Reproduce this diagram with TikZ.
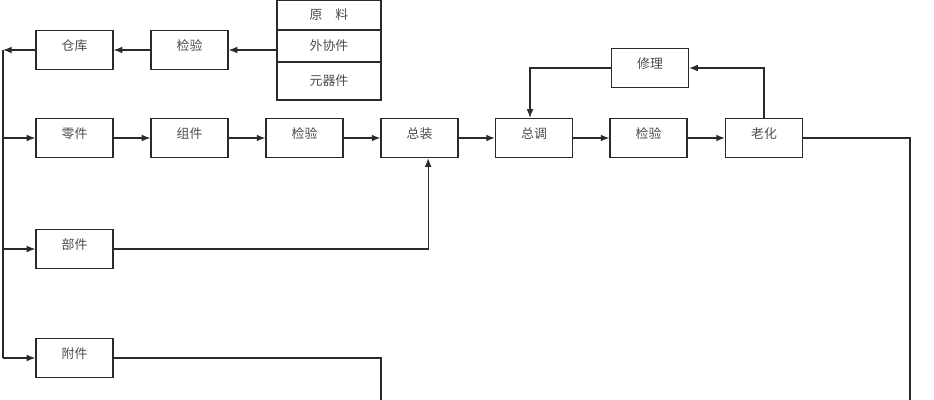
\documentclass[tikz,border=0pt]{standalone}
\usepackage{fontspec}
\usepackage{xcolor}
\usetikzlibrary{arrows.meta}
\newfontfamily\cjk{Noto Sans CJK SC}
\definecolor{lineGray}{HTML}{2A2A2A}

\begin{document}
\begin{tikzpicture}[
  x=0.03cm, y=-0.03cm,
  every node/.style={font=\cjk\fontsize{11}{13}\selectfont, text=black!70},
  box/.style={draw=lineGray, line width=1pt, minimum width=2.31cm,
    minimum height=1.17cm, inner sep=0pt, text depth=0.32cm},
  srcbox/.style={draw=lineGray, line width=1pt, minimum width=3.12cm,
    inner sep=0pt},
  flow/.style={draw=lineGray, line width=1pt, -{Latex[length=2.6mm,width=2mm]}},
  wire/.style={draw=lineGray, line width=0.9pt},
]
\useasboundingbox (0,0) rectangle (934,400);

% ─── incoming material ───
\node[srcbox, minimum height=0.9cm]  (raw)   at (329,15) {原\quad 料};
\node[srcbox, minimum height=0.96cm] (outer) at (329,46) {外协件};
\node[srcbox, minimum height=1.14cm] (elem)  at (329,81) {元器件};

\node[box] (check0) at (189.5,50) {检验};
\node[box] (store)  at (74.5,50)  {仓库};

% ─── main line ───
\node[box] (parts)   at (74.5,138)  {零件};
\node[box] (group)   at (189.5,138) {组件};
\node[box] (check1)  at (304.5,138) {检验};
\node[box] (final)   at (419.5,138) {总装};
\node[box] (tune)    at (534,138)   {总调};
\node[box] (check2)  at (648.5,138) {检验};
\node[box] (aging)   at (764,138)   {老化};
\node[box] (repair)  at (650,68)    {修理};

% ─── side branches ───
\node[box] (module)  at (74.5,249) {部件};
\node[box] (extra)   at (74.5,358) {附件};

\coordinate (trunk) at (3,50);
\coordinate (inA)   at ([xshift=0.26cm]final.south);
\coordinate (inB)   at ([xshift=-0.12cm]tune.north);
\coordinate (endA)  at (381,400);
\coordinate (endB)  at (910,400);

\draw[flow] (check0.east -| outer.west) -- (check0.east);
\draw[flow] (check0.west) -- (store.east);
\draw[flow] (store.west) -- (trunk);
\draw[wire] (trunk) -- (3,358);
\draw[flow] (3,138) -- (parts.west);
\draw[flow] (3,249) -- (module.west);
\draw[flow] (3,358) -- (extra.west);

\draw[flow] (parts) -- (group);
\draw[flow] (group) -- (check1);
\draw[flow] (check1) -- (final);
\draw[flow] (final) -- (tune);
\draw[flow] (tune) -- (check2);
\draw[flow] (check2) -- (aging);

\draw[flow] (aging.north) |- (repair.east);
\draw[flow] (repair.west) -| (inB);

\draw[flow] (module.east) -| (inA);
\draw[wire] (extra.east) -| (endA);
\draw[wire] (aging.east) -| (endB);
\end{tikzpicture}
\end{document}
